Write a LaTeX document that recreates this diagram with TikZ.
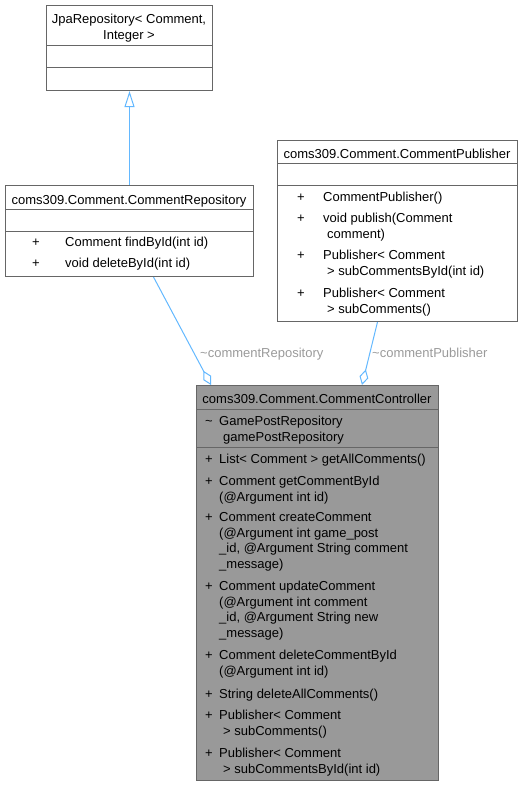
\documentclass[tikz,border=0pt]{standalone}
\usepackage{fontspec}
\setmainfont{Liberation Sans}
\usetikzlibrary{arrows.meta, calc}

\definecolor{edgeblue}{HTML}{63B8FF}
\definecolor{boxborder}{HTML}{666666}
\definecolor{ctrlfill}{HTML}{999999}
\definecolor{labelgray}{HTML}{9A9A9A}

\tikzset{
  classbox/.style={draw=boxborder, line width=1pt, fill=white, rectangle, inner sep=0pt, anchor=north west},
  sepline/.style={draw=boxborder, line width=1pt},
  txt/.style={inner sep=0pt, anchor=base west, font=\fontsize{13}{15.5}\selectfont},
  ctxt/.style={txt, anchor=base},
  inherit/.style={draw=edgeblue, line width=1pt, -{Triangle[length=16pt, width=10pt, fill=white]}},
  aggr/.style={draw=edgeblue, line width=1pt, -{Diamond[length=16pt, width=9pt, fill=white]}},
  edgelabel/.style={txt, text=labelgray},
}

\begin{document}
\begin{tikzpicture}[x=1pt, y=-1pt]
    \useasboundingbox (0,0) rectangle (523,785);

    % JpaRepository
    \node[classbox, minimum width=166pt, minimum height=85pt] (jparepo) at (46,5) {};
    \draw[sepline] (46,45) -- (212,45);
    \draw[sepline] (46,67) -- (212,67);
    \node[ctxt] (jpat1) at (129,23) {JpaRepository< Comment,};
    \node[ctxt] (jpat2) at (129,39) {Integer >};

    % CommentRepository
    \node[classbox, minimum width=248pt, minimum height=91pt] (commentrepo) at (5,185) {};
    \draw[sepline] (5,209) -- (253,209);
    \draw[sepline] (5,231) -- (253,231);
    \node[ctxt] (repotitle) at (129,204) {coms309.Comment.CommentRepository};
    \foreach \y/\t [count=\i] in {246/{Comment findById(int id)}, 267/{void deleteById(int id)}} {
        \node[txt] (repoplus\i) at (32,\y) {+};
        \node[txt] (repom\i) at (65,\y) {\t};
    }

    % CommentPublisher
    \node[classbox, minimum width=240pt, minimum height=181pt] (publisher) at (277,140) {};
    \draw[sepline] (277,163) -- (517,163);
    \draw[sepline] (277,185) -- (517,185);
    \node[ctxt] (pubtitle) at (397,158) {coms309.Comment.CommentPublisher};
    \foreach \y in {201,222,259,297} {
        \node[txt] (pubplus\y) at (297,\y) {+};
    }
    \foreach \y/\t in {201/{CommentPublisher()}, 222/{void publish(Comment}, 238/{\hspace*{4pt}comment)},
        259/{Publisher< Comment}, 275/{\hspace*{4pt}> subCommentsById(int id)},
        297/{Publisher< Comment}, 313/{\hspace*{4pt}> subComments()}} {
        \node[txt] (pubm\y) at (323,\y) {\t};
    }

    % CommentController
    \node[classbox, fill=ctrlfill, minimum width=242pt, minimum height=395pt] (controller) at (196,385) {};
    \draw[sepline] (196,409) -- (438,409);
    \draw[sepline] (196,447) -- (438,447);
    \node[ctxt] (ctrltitle) at (317,403) {coms309.Comment.CommentController};
    \node[txt] (ctrlattr) at (205,425) {\char`\~};
    \node[txt] (ctrla1) at (219,425) {GamePostRepository};
    \node[txt] (ctrla2) at (219,441) {\hspace*{4pt}gamePostRepository};
    \foreach \y in {463,485,521,590,659,698,719,757} {
        \node[txt] (ctrlplus\y) at (205,\y) {+};
    }
    \foreach \y/\t in {463/{List< Comment > getAllComments()},
        485/{Comment getCommentById}, 501/{(@Argument int id)},
        521/{Comment createComment}, 537/{(@Argument int game\_post}, 552/{\_id, @Argument String comment}, 568/{\_message)},
        590/{Comment updateComment}, 606/{(@Argument int comment}, 621/{\_id, @Argument String new}, 637/{\_message)},
        659/{Comment deleteCommentById}, 675/{(@Argument int id)},
        698/{String deleteAllComments()},
        719/{Publisher< Comment}, 735/{\hspace*{4pt}> subComments()},
        757/{Publisher< Comment}, 773/{\hspace*{4pt}> subCommentsById(int id)}} {
        \node[txt] (ctrlm\y) at (219,\y) {\t};
    }

    % relations
    \draw[inherit] (commentrepo.north) -- (jparepo.south);
    \draw[aggr] ($(commentrepo.south)+(24,0)$) -- ($(controller.north west)+(15,0)$);
    \draw[aggr] ($(publisher.south)+(-20,0)$) -- ($(controller.north west)+(166,0)$);
    \node[edgelabel] (replabel) at (200,357) {\char`\~commentRepository};
    \node[edgelabel] (publabel) at (372,357) {\char`\~commentPublisher};
\end{tikzpicture}
\end{document}
